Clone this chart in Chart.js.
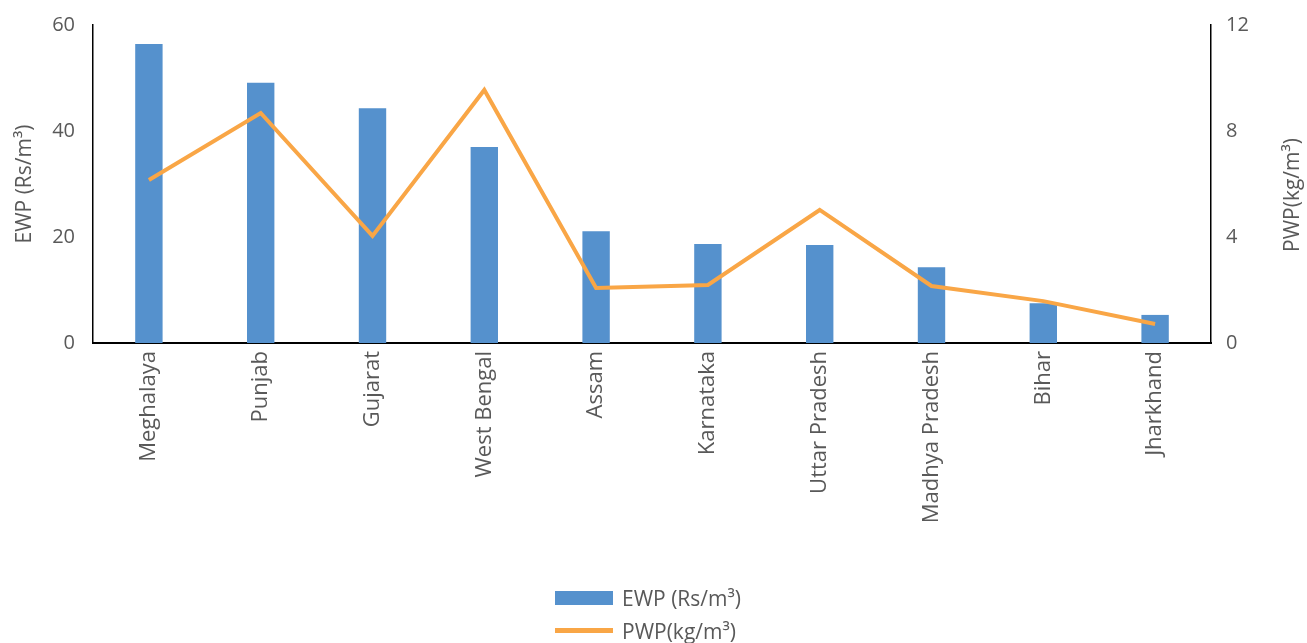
<!DOCTYPE html>
<html>
<head>
<meta charset="utf-8">
<script src="https://cdn.jsdelivr.net/npm/chart.js@4/dist/chart.umd.min.js"></script>
<style>
  html, body { margin: 0; padding: 0; background: #fff; }
  #wrap { position: relative; width: 1307px; height: 643px; }
  #legend { position: absolute; left: 555px; top: 581px; font-family: "Open Sans", sans-serif; font-size: 21px; color: #595959; }
  .item { display: flex; align-items: center; height: 33px; }
  .sw { width: 58px; margin-right: 9px; }
</style>
</head>
<body>
<div id="wrap">
  <canvas id="c" width="1307" height="643"></canvas>
  <div id="legend"></div>
</div>
<script>
const categories = ["Meghalaya", "Punjab", "Gujarat", "West Bengal", "Assam", "Karnataka", "Uttar Pradesh", "Madhya Pradesh", "Bihar", "Jharkhand"];
const ewpValues = [56.4, 49.1, 44.3, 37.0, 21.1, 18.7, 18.5, 14.3, 7.5, 5.3];
const pwpValues = [6.15, 8.68, 4.04, 9.55, 2.08, 2.19, 5.02, 2.15, 1.58, 0.72];
const leftTicks = [0, 20, 40, 60];
const rightTicks = [0, 4, 8, 12];
const ewpLabel = "EWP (Rs/m³)";
const pwpLabel = "PWP(kg/m³)";

const BAR = "#5591CD";
const LINE = "#F9A646";
const GRAY = "#595959";
const FONT = "'Open Sans', sans-serif";

const rightTitlePlugin = {
  id: 'rightTitle',
  afterDraw(chart) {
    const ctx = chart.ctx;
    ctx.save();
    ctx.fillStyle = GRAY;
    ctx.font = "21px " + FONT;
    ctx.textAlign = "center";
    ctx.textBaseline = "middle";
    ctx.translate(1293, 195);
    ctx.rotate(-Math.PI / 2);
    ctx.fillText(pwpLabel, 0, 0);
    ctx.restore();
  }
};

new Chart(document.getElementById('c'), {
  data: {
    labels: categories,
    datasets: [
      { type: 'line', label: pwpLabel, data: pwpValues, yAxisID: 'y2', borderColor: LINE, backgroundColor: LINE, borderWidth: 4, pointRadius: 0, tension: 0, order: 0 },
      { type: 'bar', label: ewpLabel, data: ewpValues, yAxisID: 'y', backgroundColor: BAR, barPercentage: 0.245, categoryPercentage: 1, order: 1 }
    ]
  },
  options: {
    responsive: false,
    animation: false,
    layout: { padding: { top: 25, left: 0, right: 0, bottom: 0 } },
    plugins: { legend: { display: false }, tooltip: { enabled: false } },
    scales: {
      x: {
        grid: { display: false, drawTicks: false },
        border: { color: '#000', width: 2 },
        ticks: { color: GRAY, font: { family: FONT, size: 22 }, minRotation: 90, maxRotation: 90, padding: 8, autoSkip: false },
        afterFit(s) { s.height = 300; s.paddingLeft = 0; s.paddingRight = 0; }
      },
      y: {
        position: 'left', min: 0, max: 60,
        grid: { display: false, drawTicks: false },
        border: { color: '#000', width: 1.5 },
        afterBuildTicks(s) { s.ticks = leftTicks.map(v => ({ value: v })); },
        ticks: { color: GRAY, font: { family: FONT, size: 20 }, padding: 18 },
        title: { display: true, text: ewpLabel, color: GRAY, font: { family: FONT, size: 21 }, padding: { top: 12, bottom: 0 } },
        afterFit(s) { s.width = 93; s.paddingTop = 0; s.paddingBottom = 0; }
      },
      y2: {
        position: 'right', min: 0, max: 12,
        grid: { display: false, drawTicks: false },
        border: { color: '#000', width: 1.5 },
        afterBuildTicks(s) { s.ticks = rightTicks.map(v => ({ value: v })); },
        ticks: { color: GRAY, font: { family: FONT, size: 20 }, padding: 15 },
        afterFit(s) { s.width = 96; s.paddingTop = 0; s.paddingBottom = 0; }
      }
    }
  },
  plugins: [rightTitlePlugin]
});

const lg = document.getElementById('legend');
lg.innerHTML =
  '<div class="item"><div class="sw" style="height:14px;background:' + BAR + '"></div><span>' + ewpLabel + '</span></div>' +
  '<div class="item"><div class="sw" style="height:5px;background:' + LINE + '"></div><span>' + pwpLabel + '</span></div>';
</script>
</body>
</html>
